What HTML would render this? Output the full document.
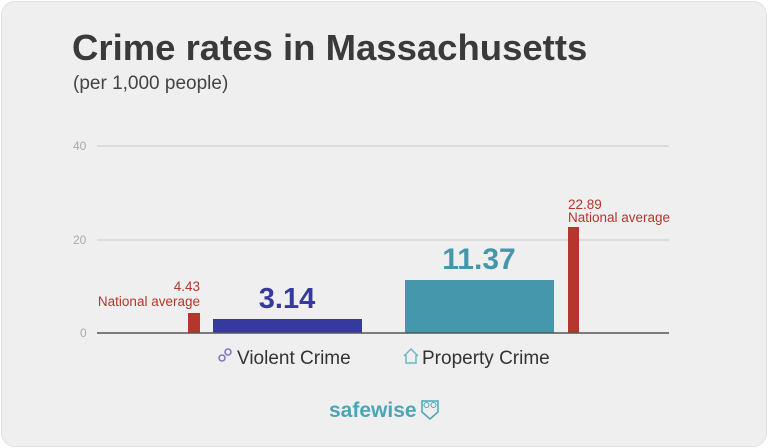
<!DOCTYPE html>
<html><head><style>
body{margin:0;width:768px;height:448px;background:#fff;font-family:"Liberation Sans",sans-serif;overflow:hidden}
.card{position:absolute;left:1px;top:1px;width:764px;height:444px;background:#efefef;border:1px solid #e2e2e2;border-radius:14px}
.t{position:absolute;white-space:nowrap}
</style></head><body>
<div class="card"></div>
<div class="t" style="left:72px;top:27px;font-size:36.5px;font-weight:bold;color:#3a3a3a">Crime rates in Massachusetts</div>
<div class="t" style="left:73px;top:73px;font-size:19px;color:#444">(per 1,000 people)</div>
<svg width="768" height="448" style="position:absolute;left:0;top:0">
<g stroke="#d6d6d6" stroke-width="1.5"><line x1="97" y1="146" x2="669" y2="146"/><line x1="97" y1="240" x2="669" y2="240"/></g>
<g font-size="12" fill="#aaa" font-family="Liberation Sans"><text x="73" y="150">40</text><text x="73" y="244">20</text><text x="80" y="337">0</text></g>
<rect x="188" y="313" width="12" height="20" fill="#b5372b"/>
<rect x="213" y="319" width="149" height="14" fill="#363a9e"/>
<rect x="405" y="280" width="149" height="53" fill="#4597ab"/>
<rect x="568" y="227" width="11" height="106" fill="#b5372b"/>
<line x1="97" y1="333" x2="669" y2="333" stroke="#555" stroke-width="1.5"/>
<g fill="#b5372b" font-size="13.5" font-family="Liberation Sans"><text x="200" y="291" text-anchor="end">4.43</text><text x="200" y="306" text-anchor="end">National average</text>
<text x="568" y="209">22.89</text><text x="568" y="222">National average</text></g>
<text x="287" y="308" text-anchor="middle" font-size="29" font-weight="bold" fill="#363a9e" font-family="Liberation Sans">3.14</text>
<text x="479" y="269" text-anchor="middle" font-size="30" font-weight="bold" fill="#4597ab" font-family="Liberation Sans">11.37</text>
<g fill="none" stroke="#7a74c4" stroke-width="1.5"><circle cx="222" cy="358" r="3"/><circle cx="228" cy="352" r="3"/></g>
<text x="237" y="364" font-size="19" fill="#333" font-family="Liberation Sans">Violent Crime</text>
<path d="M404 356 L411 349 L418 356 M406 355 V363 H416 V355" fill="none" stroke="#6bb8c4" stroke-width="1.5"/>
<text x="422" y="364" font-size="19" fill="#333" font-family="Liberation Sans">Property Crime</text>
<text x="329" y="417" font-size="21" font-weight="bold" fill="#4aa6b6" font-family="Liberation Sans">safewise</text>
<path d="M422 401 L438 401 L438 412 L430 419 L422 412 Z" fill="none" stroke="#4aa6b6" stroke-width="1.5"/>
<circle cx="426.5" cy="405" r="2.5" fill="none" stroke="#4aa6b6"/><circle cx="433.5" cy="405" r="2.5" fill="none" stroke="#4aa6b6"/>
</svg>
</body></html>
